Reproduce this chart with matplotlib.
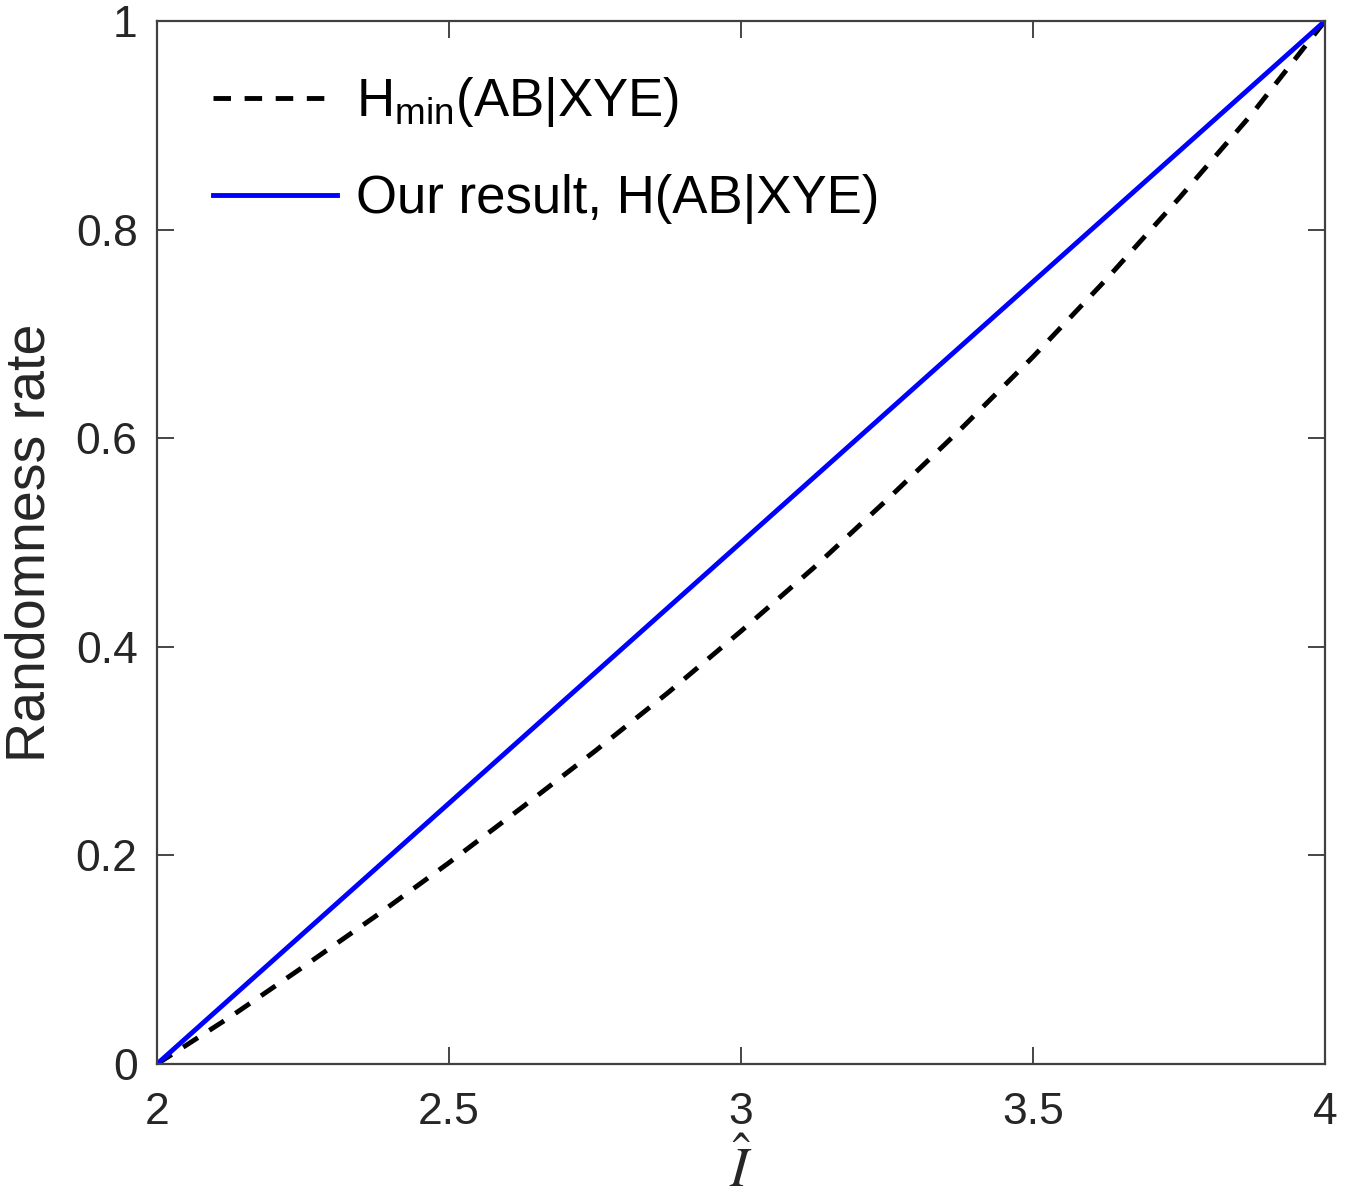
import matplotlib
matplotlib.use("Agg")
import matplotlib.pyplot as plt

plt.rcParams['font.family'] = ['Liberation Sans', 'DejaVu Sans']
plt.rcParams['mathtext.fontset'] = 'custom'
plt.rcParams['mathtext.rm'] = 'Liberation Sans'
plt.rcParams['mathtext.it'] = 'Liberation Sans:italic'

# Data
i_hat = [2.0, 2.125, 2.25, 2.375, 2.5, 2.625, 2.75, 2.875, 3.0,
         3.125, 3.25, 3.375, 3.5, 3.625, 3.75, 3.875, 4.0]
h_min = [0.0, 0.045, 0.093, 0.142, 0.193, 0.246, 0.300, 0.356, 0.415,
         0.476, 0.541, 0.608, 0.678, 0.752, 0.830, 0.911, 1.0]
our_x = [2.0, 4.0]
our_h = [0.0, 1.0]

x_ticks = [2, 2.5, 3, 3.5, 4]
x_tick_labels = ['2', '2.5', '3', '3.5', '4']
y_ticks = [0, 0.2, 0.4, 0.6, 0.8, 1]
y_tick_labels = ['0', '0.2', '0.4', '0.6', '0.8', '1']

fig = plt.figure(figsize=(13.61, 11.98), dpi=100)
ax = fig.add_axes([157/1361, 1 - 1064/1198, (1325-157)/1361, (1064-21)/1198])

ax.plot(i_hat, h_min, color='black', linestyle=(0, (3.6, 2.8)), linewidth=3.5,
        label=r'H$_{\mathrm{min}}$(AB|XYE)')
ax.plot(our_x, our_h, color='#0000FF', linewidth=3.5,
        label='Our result, H(AB|XYE)')

ax.set_xlim(2, 4)
ax.set_ylim(0, 1)
ax.set_xticks(x_ticks)
ax.set_xticklabels(x_tick_labels)
ax.set_yticks(y_ticks)
ax.set_yticklabels(y_tick_labels)

ax.tick_params(direction='in', length=12, width=1.2, top=True, right=True,
               labelsize=32, colors='#262626')
ax.tick_params(axis='x', pad=20)
ax.tick_params(axis='y', pad=14)
for s in ax.spines.values():
    s.set_color('#404040')
    s.set_linewidth(1.6)

ax.set_ylabel('Randomness rate', fontsize=40, color='#262626', labelpad=14)
ax.set_xlabel(r'$\hat{I}$', fontsize=40, color='#262626', math_fontfamily='stix',
              labelpad=6)

leg = ax.legend(loc='upper left', frameon=False, fontsize=38, handlelength=2.35,
                handletextpad=0.35, labelspacing=0.85,
                bbox_to_anchor=(0.03, 0.968), borderaxespad=0.0)

fig.savefig('out.png', dpi=100)
